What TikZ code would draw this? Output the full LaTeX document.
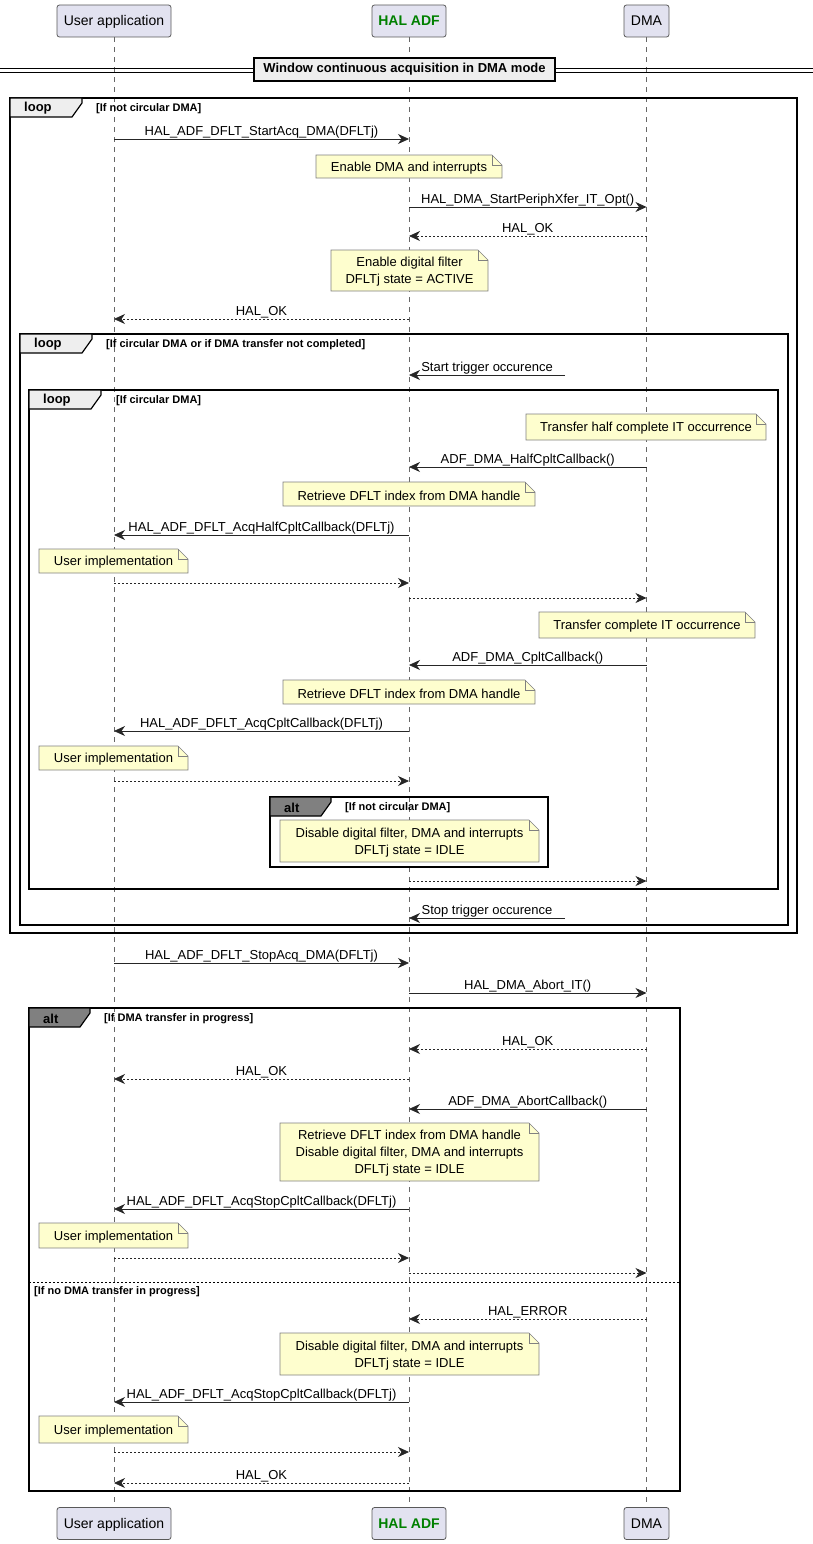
\documentclass[tikz,border=0pt]{standalone}
\usepackage{fontspec}
\setmainfont{Liberation Sans}
\usetikzlibrary{arrows.meta}
\definecolor{partfill}{HTML}{E2E2F0}
\definecolor{notefill}{HTML}{FEFECE}
\definecolor{hdrfill}{HTML}{EEEEEE}
\definecolor{altfill}{HTML}{808080}
\definecolor{halgreen}{HTML}{008000}
\newcommand{\snote}[6]{%
  \path[notebox] ({#2-#4/2},{#3-#5/2}) -- ({#2+#4/2-10},{#3-#5/2}) -- ({#2+#4/2},{#3-#5/2+10}) -- ({#2+#4/2},{#3+#5/2}) -- ({#2-#4/2},{#3+#5/2}) -- cycle;
  \draw[notebox,fill=none] ({#2+#4/2-10},{#3-#5/2}) -- ({#2+#4/2-10},{#3-#5/2+10}) -- ({#2+#4/2},{#3-#5/2+10});
  \node[notetext] (#1) at (#2,#3) {#6};}
\newcommand{\ftab}[6]{%
  \path[tab,fill=#5] (#2,#3) -- ({#2+#4},#3) -- ({#2+#4},{#3+5}) -- ({#2+#4-10},{#3+19}) -- (#2,{#3+19}) -- cycle;
  \node[tabtxt] (#1) at ({#2+14},{#3+10.5}) {#6};}
\newcommand{\seqmsg}[5][msg]{\draw[#1] (#2 |- 0,#4) -- node[lbl]{#5} (#3 |- 0,#4);}
\begin{document}
\begin{tikzpicture}[x=1pt,y=-1pt,
  part/.style={draw=black!65, fill=partfill, rounded corners=2.5pt, minimum height=32pt, inner sep=0pt, font=\fontsize{14}{16}\selectfont, line width=0.8pt, text depth=2pt, text height=12pt},
  lifeline/.style={draw=black!60, dash pattern=on 5pt off 5pt, line width=0.5pt},
  msg/.style={draw=black!85, line width=0.8pt, -{Stealth[length=11pt,width=10pt,inset=3.5pt]}},
  ret/.style={msg, dash pattern=on 2pt off 2pt},
  lbl/.style={font=\fontsize{13}{15}\selectfont, anchor=south, inner sep=0.6pt},
  notebox/.style={draw=black!50, fill=notefill, line width=0.6pt},
  notetext/.style={font=\fontsize{13}{17}\selectfont, align=center, inner sep=0pt, yshift=-1.5pt},
  frame/.style={draw=black, line width=1.4pt},
  tab/.style={draw=black, line width=1.2pt},
  tabtxt/.style={font=\bfseries\fontsize{13}{15}\selectfont, anchor=west, inner sep=0pt},
  cond/.style={font=\bfseries\fontsize{11}{13}\selectfont, anchor=west, inner sep=0pt, yshift=-1pt},
  divbox/.style={draw=black, fill=hdrfill, line width=1.2pt, minimum width=301pt, minimum height=23pt, inner sep=0pt, font=\bfseries\fontsize{13}{15}\selectfont, text depth=3pt, text height=10pt}
]
\useasboundingbox (0,0) rectangle (813,1544);
% participants
\node[part, minimum width=114pt] (uT) at (114,21) {User application};
\node[part, minimum width=74pt, font=\bfseries\fontsize{14}{16}\selectfont, text=halgreen] (hT) at (409,21) {HAL ADF};
\node[part, minimum width=45pt] (dT) at (646.5,21) {DMA};
\node[part, minimum width=114pt] (uB) at (114,1523.5) {User application};
\node[part, minimum width=74pt, font=\bfseries\fontsize{14}{16}\selectfont, text=halgreen] (hB) at (409,1523.5) {HAL ADF};
\node[part, minimum width=45pt] (dB) at (646.5,1523.5) {DMA};
\draw[lifeline] (uT.south) -- (uB.north);
\draw[lifeline] (hT.south) -- (hB.north);
\draw[lifeline] (dT.south) -- (dB.north);
% divider
\draw[line width=0.9pt] (0,68.5) -- (813,68.5);
\draw[line width=0.9pt] (0,72) -- (813,72);
\node[divbox] (div) at (404.5,69.5) {Window continuous acquisition in DMA mode};
% loop 1
\draw[frame] (10,98) rectangle (797,933);
\ftab{l1}{10}{98}{72}{hdrfill}{loop}
\node[cond] (c1) at (96,107.5) {[If not circular DMA]};
\seqmsg{uT}{hT}{139}{HAL\_ADF\_DFLT\_StartAcq\_DMA(DFLTj)}
\snote{n1}{409}{166.5}{186}{23}{Enable DMA and interrupts}
\seqmsg{hT}{dT}{207}{HAL\_DMA\_StartPeriphXfer\_IT\_Opt()}
\seqmsg[ret]{dT}{hT}{236}{HAL\_OK}
\snote{n2}{409.5}{270.5}{157}{41}{Enable digital filter\\DFLTj state = ACTIVE}
\seqmsg[ret]{hT}{uT}{319}{HAL\_OK}
% loop 2
\draw[frame] (20,334) rectangle (788,925);
\ftab{l2}{20}{334}{72}{hdrfill}{loop}
\node[cond] (c2) at (106,343.5) {[If circular DMA or if DMA transfer not completed]};
\coordinate (st) at (565,375);
\draw[msg] (st) -- node[lbl]{Start trigger occurence} (hT |- st);
% loop 3
\draw[frame] (29,390) rectangle (778,889);
\ftab{l3}{29}{390}{72}{hdrfill}{loop}
\node[cond] (c3) at (116,399.5) {[If circular DMA]};
\snote{n3}{646}{427}{240}{26}{Transfer half complete IT occurrence}
\seqmsg{dT}{hT}{467}{ADF\_DMA\_HalfCpltCallback()}
\snote{n4}{409}{494}{252}{24}{Retrieve DFLT index from DMA handle}
\seqmsg{hT}{uT}{535}{HAL\_ADF\_DFLT\_AcqHalfCpltCallback(DFLTj)}
\snote{n5}{113.5}{561}{149}{24}{User implementation}
\seqmsg[ret]{uT}{hT}{583}{}
\seqmsg[ret]{hT}{dT}{598}{}
\snote{n6}{647}{625}{216}{26}{Transfer complete IT occurrence}
\seqmsg{dT}{hT}{665}{ADF\_DMA\_CpltCallback()}
\snote{n7}{409}{692}{252}{24}{Retrieve DFLT index from DMA handle}
\seqmsg{hT}{uT}{731}{HAL\_ADF\_DFLT\_AcqCpltCallback(DFLTj)}
\snote{n8}{113.5}{758}{149}{24}{User implementation}
\seqmsg[ret]{uT}{hT}{781}{}
% alt inner
\draw[frame] (270,797) rectangle (548,867);
\ftab{a1}{270}{797}{61}{altfill}{alt}
\node[cond] (c4) at (345,806.5) {[If not circular DMA]};
\snote{n9}{409.5}{841}{259}{42}{Disable digital filter, DMA and interrupts\\DFLTj state = IDLE}
\seqmsg[ret]{hT}{dT}{881}{}
\coordinate (sp) at (565,918);
\draw[msg] (sp) -- node[lbl]{Stop trigger occurence} (hT |- sp);
% after loops
\seqmsg{uT}{hT}{963}{HAL\_ADF\_DFLT\_StopAcq\_DMA(DFLTj)}
\seqmsg{hT}{dT}{993}{HAL\_DMA\_Abort\_IT()}
% alt outer
\draw[frame] (29,1008) rectangle (680,1491);
\ftab{a2}{29}{1008}{61}{altfill}{alt}
\node[cond] (c5) at (104,1017.5) {[If DMA transfer in progress]};
\seqmsg[ret]{dT}{hT}{1049}{HAL\_OK}
\seqmsg[ret]{hT}{uT}{1079}{HAL\_OK}
\seqmsg{dT}{hT}{1109}{ADF\_DMA\_AbortCallback()}
\snote{n10}{409.5}{1152}{259}{58}{Retrieve DFLT index from DMA handle\\Disable digital filter, DMA and interrupts\\DFLTj state = IDLE}
\seqmsg{hT}{uT}{1209}{HAL\_ADF\_DFLT\_AcqStopCpltCallback(DFLTj)}
\snote{n11}{113.5}{1235.5}{149}{25}{User implementation}
\seqmsg[ret]{uT}{hT}{1258}{}
\seqmsg[ret]{hT}{dT}{1273}{}
\draw[line width=0.7pt, dash pattern=on 2pt off 2pt] (29,1282) -- (680,1282);
\node[cond] (c6) at (34,1290.5) {[If no DMA transfer in progress]};
\seqmsg[ret]{dT}{hT}{1319}{HAL\_ERROR}
\snote{n12}{409.5}{1354}{259}{42}{Disable digital filter, DMA and interrupts\\DFLTj state = IDLE}
\seqmsg{hT}{uT}{1402}{HAL\_ADF\_DFLT\_AcqStopCpltCallback(DFLTj)}
\snote{n13}{113.5}{1429.5}{149}{27}{User implementation}
\seqmsg[ret]{uT}{hT}{1452}{}
\seqmsg[ret]{hT}{uT}{1483}{HAL\_OK}
\end{tikzpicture}
\end{document}
